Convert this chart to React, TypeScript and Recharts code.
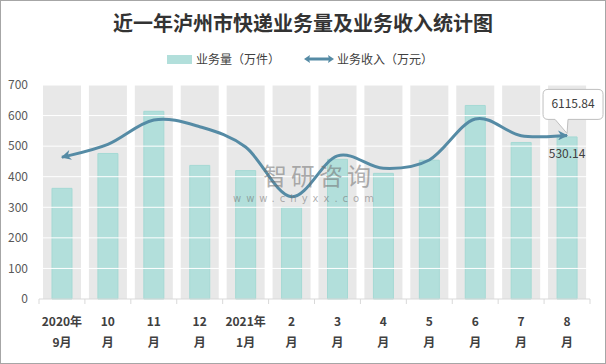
import React from "react";
import {
  ComposedChart,
  Bar,
  Line,
  XAxis,
  YAxis,
  ReferenceLine,
  LabelList,
} from "recharts";

const LABEL_TOP = ["2020年", "10", "11", "12", "2021年", "2", "3", "4", "5", "6", "7", "8"];
const LABEL_BOTTOM = ["9月", "月", "月", "月", "1月", "月", "月", "月", "月", "月", "月", "月"];
// 业务量（万件）
const VOLUME = [362, 476, 614, 437, 420, 300, 457, 411, 454, 633, 512, 530.14];
// 业务收入（万元）
const REVENUE = [5297, 5783, 6692, 6441, 5680, 3824, 5350, 4886, 5196, 6729, 6105, 6115.84];
const Y_TICKS = [0, 100, 200, 300, 400, 500, 600, 700];
const Y_MAX = 700;
const R_MAX = 8000;

const FONT = "'Noto Sans CJK SC', 'Noto Sans', sans-serif";
const LINE_COLOR = "#558BA5";
const BAR_COLOR = "#B2DFDB";
const BAND_COLOR = "#E8E8E8";
const TEXT = "#404040";

const data = LABEL_TOP.map((t, i) => ({
  key: i,
  top: t,
  bottom: LABEL_BOTTOM[i],
  band: Y_MAX,
  volume: VOLUME[i],
  revenue: REVENUE[i],
}));

// excel-ish smoothed line (catmull-rom)
const smooth = (ctx: any) => {
  let pts: number[][] = [];
  return {
    areaStart() {},
    areaEnd() {},
    lineStart() {
      pts = [];
    },
    point(x: number, y: number) {
      pts.push([+x, +y]);
    },
    lineEnd() {
      if (!pts.length) return;
      ctx.moveTo(pts[0][0], pts[0][1]);
      for (let i = 0; i < pts.length - 1; i++) {
        const p0 = pts[i - 1] || pts[i];
        const p1 = pts[i];
        const p2 = pts[i + 1];
        const p3 = pts[i + 2] || pts[i + 1];
        ctx.bezierCurveTo(
          p1[0] + (p2[0] - p0[0]) / 6,
          p1[1] + (p2[1] - p0[1]) / 6,
          p2[0] - (p3[0] - p1[0]) / 6,
          p2[1] - (p3[1] - p1[1]) / 6,
          p2[0],
          p2[1]
        );
      }
    },
  };
};

const XTick = (props: any) => {
  const { x, y, payload, index } = props;
  const off = payload.offset || 0;
  const row = data[payload.index ?? index] || data[index];
  return (
    <g>
      <line x1={x - off} y1={y} x2={x - off} y2={y + 5} stroke="#D9D9D9" />
      {index === data.length - 1 && (
        <line x1={x + off} y1={y} x2={x + off} y2={y + 5} stroke="#D9D9D9" />
      )}
      <text x={x} y={y + 27} textAnchor="middle" fontSize={12} fontWeight="bold" fill={TEXT} fontFamily={FONT}>
        {row.top}
      </text>
      <text x={x} y={y + 48} textAnchor="middle" fontSize={12} fontWeight="bold" fill={TEXT} fontFamily={FONT}>
        {row.bottom}
      </text>
    </g>
  );
};

const BarLabel = (props: any) => {
  const { x, y, width, index, value } = props;
  if (index !== data.length - 1) return null;
  return (
    <text x={x + width / 2} y={y + 21} textAnchor="middle" fontSize={12} fill={TEXT} fontFamily={FONT}>
      {value}
    </text>
  );
};

const Callout = (props: any) => {
  const { x, y, index, value } = props;
  if (index !== data.length - 1) return null;
  const l = x - 24, r = x + 36, t = y - 46, b = y - 16, rad = 5;
  const d = `M${l + rad},${t} H${r - rad} Q${r},${t} ${r},${t + rad} V${b - rad} Q${r},${b} ${r - rad},${b}
    H${x + 1} L${x},${y - 2} L${x - 12},${b} H${l + rad} Q${l},${b} ${l},${b - rad} V${t + rad} Q${l},${t} ${l + rad},${t} Z`;
  return (
    <g>
      <path d={d} fill="#fff" stroke="#BFBFBF" />
      <text x={x + 6} y={y - 27} textAnchor="middle" fontSize={12} fill={TEXT} fontFamily={FONT}>
        {value}
      </text>
    </g>
  );
};

export default function App() {
  return (
    <div
      style={{
        position: "absolute",
        left: 0,
        top: 0,
        width: 606,
        height: 364,
        boxSizing: "border-box",
        border: "1px solid #A6A6A6",
        background: "#fff",
        fontFamily: FONT,
      }}
    >
      <div
        style={{
          position: "absolute",
          left: 0,
          width: 604,
          top: 8,
          textAlign: "center",
          fontSize: 20,
          fontWeight: "bold",
          color: "#333",
          lineHeight: "28px",
        }}
      >
        近一年泸州市快递业务量及业务收入统计图
      </div>
      <div style={{ position: "absolute", top: 49, left: 0, height: 18, fontSize: 12, color: TEXT }}>
        <div style={{ position: "absolute", left: 166, top: 5, width: 25, height: 9, background: BAR_COLOR }} />
        <div style={{ position: "absolute", left: 195, top: 0, whiteSpace: "nowrap", lineHeight: "18px" }}>
          业务量（万件）
        </div>
        <svg style={{ position: "absolute", left: 303, top: 3 }} width={30} height={12}>
          <line x1={4} y1={6} x2={26} y2={6} stroke={LINE_COLOR} strokeWidth={3} />
          <path d="M0,6 L6,2 L5,6 L6,10 Z" fill={LINE_COLOR} />
          <path d="M30,6 L24,2 L25,6 L24,10 Z" fill={LINE_COLOR} />
        </svg>
        <div style={{ position: "absolute", left: 336, top: 0, whiteSpace: "nowrap", lineHeight: "18px" }}>
          业务收入（万元）
        </div>
      </div>
      <ComposedChart
        width={604}
        height={362}
        data={data}
        margin={{ top: 84, right: 15, left: 0, bottom: 14 }}
        style={{ position: "absolute", left: 0, top: 0 }}
      >
        <defs>
          <marker
            id="arr"
            viewBox="0 0 10 10"
            refX={9}
            refY={5}
            markerWidth={11}
            markerHeight={10}
            markerUnits="userSpaceOnUse"
            orient="auto-start-reverse"
          >
            <path d="M0,0 L10,5 L0,10 L3,5 Z" fill={LINE_COLOR} />
          </marker>
        </defs>
        <XAxis xAxisId="bg" dataKey="key" hide />
        <XAxis
          dataKey="key"
          height={50}
          interval={0}
          tickSize={0}
          tickMargin={0}
          tickLine={false}
          axisLine={{ stroke: "#D9D9D9" }}
          tick={<XTick />}
        />
        <YAxis
          yAxisId="l"
          width={38}
          domain={[0, Y_MAX]}
          ticks={Y_TICKS}
          axisLine={false}
          tickLine={false}
          tickSize={0}
          tickMargin={11}
          tick={{ fontSize: 12, fill: "#595959", fontFamily: FONT }}
        />
        <YAxis yAxisId="r" orientation="right" hide domain={[0, R_MAX]} />
        <Bar
          xAxisId="bg"
          yAxisId="l"
          dataKey="band"
          barSize={38}
          fill={BAND_COLOR}
          isAnimationActive={false}
        />
        {Y_TICKS.slice(1).map((v) => (
          <ReferenceLine key={v} yAxisId="l" y={v} stroke="#fff" strokeWidth={1} />
        ))}
        <Bar
          yAxisId="l"
          dataKey="volume"
          barSize={20}
          fill={BAR_COLOR}
          stroke="#A5D9D4"
          isAnimationActive={false}
        >
          <LabelList dataKey="volume" content={<BarLabel />} />
        </Bar>
        <Line
          yAxisId="r"
          dataKey="revenue"
          type={smooth as any}
          stroke={LINE_COLOR}
          strokeWidth={3}
          dot={false}
          activeDot={false}
          markerStart="url(#arr)"
          markerEnd="url(#arr)"
          isAnimationActive={false}
        >
          <LabelList dataKey="revenue" content={<Callout />} />
        </Line>
      </ComposedChart>
      <div
        style={{
          position: "absolute",
          left: 262,
          top: 161,
          fontSize: 24,
          color: "rgba(110,110,110,0.55)",
          lineHeight: "26px",
          pointerEvents: "none",
          letterSpacing: 4,
        }}
      >
        智研咨询
      </div>
      <div
        style={{
          position: "absolute",
          left: 232,
          top: 192,
          fontSize: 10,
          lineHeight: "12px",
          color: "rgba(110,110,110,0.55)",
          letterSpacing: 5,
          pointerEvents: "none",
          fontFamily: "'DejaVu Sans', sans-serif",
        }}
      >
        www.chyxx.com
      </div>
    </div>
  );
}
